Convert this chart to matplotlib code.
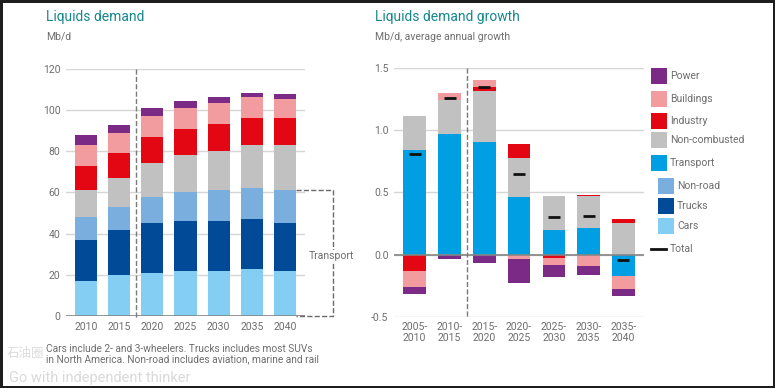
import numpy as np
import matplotlib
matplotlib.use('Agg')
import matplotlib.pyplot as plt
from matplotlib.patches import Rectangle
from matplotlib.lines import Line2D

plt.rcParams['font.family'] = ['Roboto', 'Noto Sans CJK SC', 'DejaVu Sans']

TEAL = '#15878c'
GREY_TEXT = '#6e6e6e'
GRID = '#d6d6d6'
ZERO = '#858585'

COLORS = {
    'Power': '#7b2a85',
    'Buildings': '#f39ca0',
    'Industry': '#e30613',
    'Non-combusted': '#c1c1c1',
    'Transport': '#009fe3',
    'Non-road': '#7aaedf',
    'Trucks': '#004a97',
    'Cars': '#84cef3',
}

# left chart: liquids demand (Mb/d)
years = ['2010', '2015', '2020', '2025', '2030', '2035', '2040']
cars = [17, 20, 21, 22, 22, 23, 22]
trucks = [20, 22, 24, 24, 24, 24, 23]
non_road = [11, 11, 13, 14, 15.3, 15, 16.3]
non_combusted = [13, 14, 16.5, 18, 19, 21, 22]
industry = [12, 12, 12.5, 13, 13, 13, 13]
buildings = [10, 10, 10, 10, 10, 10.5, 9]
power = [5, 4, 4, 3.5, 3.3, 2, 2.5]

# right chart: average annual growth (Mb/d)
periods = ['2005-\n2010', '2010-\n2015', '2015-\n2020', '2020-\n2025',
           '2025-\n2030', '2030-\n2035', '2035-\n2040']
g_transport = [0.84, 0.97, 0.905, 0.46, 0.196, 0.212, -0.175]
g_non_combusted = [0.275, 0.275, 0.41, 0.315, 0.274, 0.26, 0.252]
g_industry = [-0.135, 0.0, 0.035, 0.115, -0.027, 0.01, 0.033]
g_buildings = [-0.13, 0.055, 0.055, -0.04, -0.06, -0.094, -0.105]
g_power = [-0.055, -0.04, -0.068, -0.19, -0.09, -0.07, -0.054]
g_total = [0.81, 1.255, 1.345, 0.645, 0.298, 0.309, -0.043]


def style_axis(ax):
    for spine in ax.spines.values():
        spine.set_visible(False)
    ax.tick_params(length=0, labelsize=7.5, colors=GREY_TEXT, pad=4)
    ax.set_axisbelow(True)
    ax.yaxis.grid(True, color=GRID, linewidth=1)


fig = plt.figure(figsize=(7.75, 3.88), dpi=100, edgecolor='#1e1e1e',
                 linewidth=2.5)

# ---- Liquids demand ----
ax1 = fig.add_axes([0.0852, 0.1856, 0.3084, 0.6366])
style_axis(ax1)
x1 = np.arange(len(years))
bottom = np.zeros(len(years))
left_series = [('Cars', cars), ('Trucks', trucks), ('Non-road', non_road),
               ('Non-combusted', non_combusted), ('Industry', industry),
               ('Buildings', buildings), ('Power', power)]
for name, vals in left_series:
    ax1.bar(x1, vals, 0.67, bottom=bottom, color=COLORS[name], zorder=2)
    bottom = bottom + np.array(vals)
ax1.set_xlim(-0.6, 6.6)
ax1.set_ylim(0, 120)
ax1.set_yticks(range(0, 121, 20))
ax1.set_xticks(x1)
ax1.set_xticklabels(years)
ax1.axhline(0, color=ZERO, linewidth=1.2, zorder=3)
ax1.plot([1.5, 1.5], [120, -1], color='#7a7a7a', linestyle='--',
         linewidth=1, clip_on=False, zorder=3)

transport_top = cars[-1] + trucks[-1] + non_road[-1]
bx = 7.45
ax1.plot([6.33, bx, bx, 6.33], [transport_top, transport_top, 0, 0],
         color='#6a6a6a', linestyle='--', linewidth=1, clip_on=False,
         zorder=3)
ax1.text(bx - 0.05, 29, 'Transport', fontsize=7.5, color=GREY_TEXT,
         ha='center', va='center', clip_on=False, zorder=4,
         bbox=dict(facecolor='white', edgecolor='none', pad=1))

fig.text(0.059, 0.956, 'Liquids demand', fontsize=10, color=TEAL,
         va='center')
fig.text(0.059, 0.905, 'Mb/d', fontsize=7.5, color=GREY_TEXT, va='center')
fig.text(0.059, 0.088,
         'Cars include 2- and 3-wheelers. Trucks includes most SUVs\n'
         'in North America. Non-road includes aviation, marine and rail',
         fontsize=7.3, color=GREY_TEXT, va='center', linespacing=1.05)

# ---- Liquids demand growth ----
ax2 = fig.add_axes([0.5084, 0.1838, 0.3226, 0.641])
style_axis(ax2)
x2 = np.arange(len(periods))
pos = np.zeros(len(periods))
neg = np.zeros(len(periods))
right_series = [('Transport', g_transport),
                ('Non-combusted', g_non_combusted),
                ('Industry', g_industry), ('Buildings', g_buildings),
                ('Power', g_power)]
for name, vals in right_series:
    vals = np.array(vals)
    base = np.where(vals >= 0, pos, neg)
    ax2.bar(x2, vals, 0.65, bottom=base, color=COLORS[name], zorder=2)
    pos = pos + np.where(vals >= 0, vals, 0)
    neg = neg + np.where(vals < 0, vals, 0)
ax2.scatter(x2, g_total, marker='_', s=70, color='#111111', linewidths=2,
            zorder=4)
ax2.set_xlim(-0.595, 6.59)
ax2.set_ylim(-0.5, 1.5)
ax2.set_yticks([-0.5, 0.0, 0.5, 1.0, 1.5])
ax2.set_yticklabels(['-0.5', '0.0', '0.5', '1.0', '1.5'])
ax2.set_xticks(x2)
ax2.set_xticklabels(periods, linespacing=1.05)
ax2.axhline(0, color=ZERO, linewidth=1.2, zorder=3)
ax2.plot([1.5, 1.5], [1.5, -0.5], color='#7a7a7a', linestyle='--',
         linewidth=1, zorder=3)

fig.text(0.484, 0.956, 'Liquids demand growth', fontsize=10, color=TEAL,
         va='center')
fig.text(0.484, 0.905, 'Mb/d, average annual growth', fontsize=7.5,
         color=GREY_TEXT, va='center')

# legend drawn by hand to keep the indented transport sub-items
legend_items = [('Power', 76, False), ('Buildings', 99, False),
                ('Industry', 121, False), ('Non-combusted', 140, False),
                ('Transport', 163, False), ('Non-road', 186, True),
                ('Trucks', 206, True), ('Cars', 226, True)]
W, H = 775.0, 388.0
for name, ypx, sub in legend_items:
    xpx = 658 if sub else 651
    fig.patches.append(Rectangle((xpx / W, (H - ypx - 8) / H), 15.5 / W,
                                 16 / H, transform=fig.transFigure,
                                 facecolor=COLORS[name], edgecolor='none'))
    fig.text((xpx + 19) / W, (H - ypx) / H, name, fontsize=7.5,
             color=GREY_TEXT, va='center')
fig.lines.append(Line2D([651 / W, 666 / W], [(H - 249) / H, (H - 249) / H],
                        transform=fig.transFigure, color='#111111',
                        linewidth=2))
fig.text(670 / W, (H - 249) / H, 'Total', fontsize=7.5, color=GREY_TEXT,
         va='center')

# faint watermark from the source image
fig.text(0.008, 0.09, '石油圈', fontsize=9, color='#d4d4d4', alpha=0.8,
         va='center')
fig.text(0.012, 0.027, 'Go with independent thinker', fontsize=10.5,
         color='#d0d0d0', alpha=0.8, va='center')

fig.savefig('out.png', dpi=100)
